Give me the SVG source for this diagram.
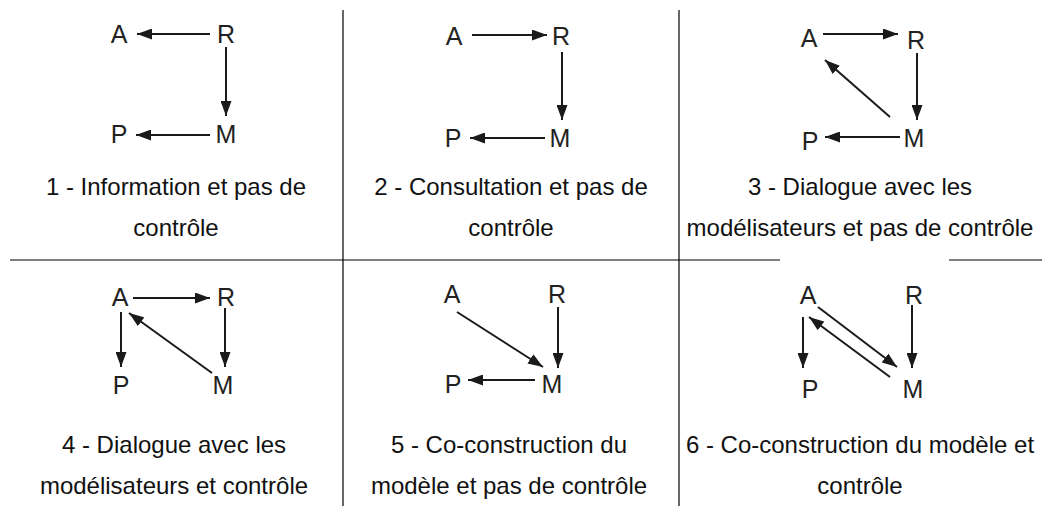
<svg xmlns="http://www.w3.org/2000/svg" width="1042" height="506" viewBox="0 0 1042 506">
<style>
.lbl{font-family:"Liberation Sans",Arial,sans-serif;font-size:25px;fill:#222;text-anchor:middle}
.cap{font-family:"Liberation Sans",Arial,sans-serif;font-size:24px;fill:#111;text-anchor:middle}
.grid{stroke:#000;stroke-width:1.2;fill:none}
.arr{stroke:#1a1a1a;stroke-width:2;fill:none;marker-end:url(#ah)}
</style>
<defs>
<marker id="ah" markerUnits="userSpaceOnUse" markerWidth="15" markerHeight="11" refX="15" refY="5.5" orient="auto">
<path d="M0,0 L15,5.5 L0,11 z" fill="#1a1a1a"/>
</marker>
</defs>
<rect width="1042" height="506" fill="#fff"/>
<g id="grid">
<line class="grid" x1="343" y1="10" x2="343" y2="506"/>
<line class="grid" x1="679" y1="10" x2="679" y2="506"/>
<line class="grid" x1="10" y1="260" x2="780" y2="260"/>
<line class="grid" x1="949" y1="260" x2="1042" y2="260"/>
</g>
<g id="panel1">
<text class="lbl" x="119" y="43">A</text>
<text class="lbl" x="226" y="43">R</text>
<text class="lbl" x="119" y="143">P</text>
<text class="lbl" x="226" y="143">M</text>
<text class="cap" x="176" y="195">1 - Information et pas de</text>
<text class="cap" x="176" y="236">contrôle</text>
</g>
<g id="panel2">
<text class="lbl" x="454" y="45">A</text>
<text class="lbl" x="561" y="45">R</text>
<text class="lbl" x="453" y="147">P</text>
<text class="lbl" x="560" y="147">M</text>
<text class="cap" x="511" y="195">2 - Consultation et pas de</text>
<text class="cap" x="511" y="236">contrôle</text>
</g>
<g id="panel3">
<text class="lbl" x="809" y="47">A</text>
<text class="lbl" x="916" y="49">R</text>
<text class="lbl" x="810" y="150">P</text>
<text class="lbl" x="914" y="147">M</text>
<text class="cap" x="860" y="195">3 - Dialogue avec les</text>
<text class="cap" x="860" y="236">modélisateurs et pas de contrôle</text>
</g>
<g id="panel4">
<text class="lbl" x="120" y="306">A</text>
<text class="lbl" x="226" y="306">R</text>
<text class="lbl" x="121" y="394">P</text>
<text class="lbl" x="223" y="394">M</text>
<text class="cap" x="174" y="453">4 - Dialogue avec les</text>
<text class="cap" x="174" y="494">modélisateurs et contrôle</text>
</g>
<g id="panel5">
<text class="lbl" x="452" y="303">A</text>
<text class="lbl" x="557" y="303">R</text>
<text class="lbl" x="453" y="393">P</text>
<text class="lbl" x="552" y="393">M</text>
<text class="cap" x="509" y="453">5 - Co-construction du</text>
<text class="cap" x="509" y="494">modèle et pas de contrôle</text>
</g>
<g id="panel6">
<text class="lbl" x="808" y="304">A</text>
<text class="lbl" x="914" y="304">R</text>
<text class="lbl" x="810" y="398">P</text>
<text class="lbl" x="913" y="398">M</text>
<text class="cap" x="860" y="453">6 - Co-construction du modèle et</text>
<text class="cap" x="860" y="494">contrôle</text>
</g>
<g id="connectors">
<line class="arr" x1="210" y1="34" x2="137" y2="34"/>
<line class="arr" x1="226" y1="47" x2="226" y2="116"/>
<line class="arr" x1="210" y1="135" x2="136" y2="135"/>
<line class="arr" x1="472" y1="35" x2="547" y2="35"/>
<line class="arr" x1="562" y1="52" x2="562" y2="120"/>
<line class="arr" x1="545" y1="138" x2="470" y2="138"/>
<line class="arr" x1="823" y1="34" x2="898" y2="34"/>
<line class="arr" x1="917" y1="53" x2="917" y2="120"/>
<line class="arr" x1="890" y1="117" x2="825" y2="60"/>
<line class="arr" x1="900" y1="137" x2="825" y2="137"/>
<line class="arr" x1="133" y1="298" x2="210" y2="298"/>
<line class="arr" x1="121" y1="312" x2="121" y2="367"/>
<line class="arr" x1="225" y1="308" x2="225" y2="367"/>
<line class="arr" x1="212" y1="373" x2="129" y2="313"/>
<line class="arr" x1="457" y1="312" x2="543" y2="367"/>
<line class="arr" x1="558" y1="307" x2="558" y2="368"/>
<line class="arr" x1="535" y1="380" x2="468" y2="380"/>
<line class="arr" x1="818" y1="307" x2="897" y2="367"/>
<line class="arr" x1="890" y1="377" x2="809" y2="317"/>
<line class="arr" x1="803" y1="317" x2="803" y2="368"/>
<line class="arr" x1="912" y1="305" x2="912" y2="368"/>
</g>
</svg>
